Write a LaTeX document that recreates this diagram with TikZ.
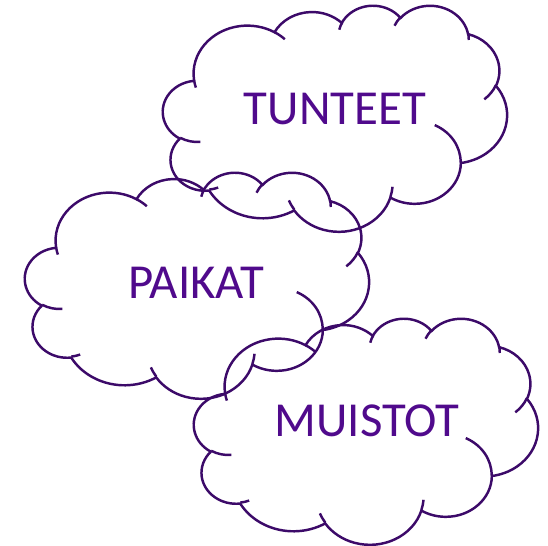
\documentclass[tikz,border=0pt]{standalone}
\usepackage{fontspec}
\setmainfont{Carlito}
\definecolor{edgepurple}{RGB}{60,10,105}
\definecolor{wordpurple}{RGB}{80,10,140}

% one arc of the outline: x radius, y radius, start, sweep (angles as seen)
\newcommand{\cloudarc}[4]{arc[x radius=#1, y radius=#2,
    start angle={atan2(#1*sin(#3),#2*cos(#3))},
    delta angle={mod(atan2(#1*sin(#3+#4),#2*cos(#3+#4))-atan2(#1*sin(#3),#2*cos(#3))+720,360)}]}

% cloud in a 43.2 x 43.2 box, top left corner at #1,#2
\newcommand{\cloudat}[2]{%
  \begin{scope}[shift={(#1,#2)}, xscale=0.15926, yscale=-0.10463]
    % outline
    \draw[cloudedge] (3.9,14.37)
      \cloudarc{6.753}{9.19}{-190.4875}{123.7805}
      \cloudarc{5.333}{7.267}{-144.1024}{89.9452}
      \cloudarc{4.365}{5.945}{-145.8079}{99.7230}
      \cloudarc{4.857}{6.595}{-130.9861}{117.2417}
      \cloudarc{5.333}{7.273}{-78.7089}{109.0269}
      \cloudarc{6.775}{9.22}{-46.2673}{130.2690}
      \cloudarc{5.785}{7.867}{0.6250}{114.0333}
      \cloudarc{6.752}{9.215}{22.4516}{115.1726}
      \cloudarc{7.72}{10.543}{66.2426}{75.7110}
      \cloudarc{4.36}{5.918}{-274.9421}{146.7356}
      \cloudarc{4.345}{5.945}{-246.8285}{152.5189} -- cycle;
    % inner hooks
    \draw[cloudedge]
      (4.693,26.177) \cloudarc{4.345}{5.945}{86.7420}{26.4295}
      (6.928,34.899) \cloudarc{4.36}{5.918}{73.6105}{11.4475}
      (16.478,39.09) \cloudarc{6.752}{9.215}{137.6242}{14.0811}
      (28.827,34.751) \cloudarc{6.752}{9.215}{6.4533}{15.9984}
      (34.129,22.954) \cloudarc{5.785}{7.867}{-70.2924}{70.9174}
      (41.798,15.354) \cloudarc{5.333}{7.273}{30.3180}{27.7515}
      (38.324,5.426) \cloudarc{4.857}{6.595}{-13.7443}{14.8589}
      (29.078,3.952) \cloudarc{4.857}{6.595}{-149.1815}{18.1954}
      (22.141,4.72) \cloudarc{4.365}{5.945}{-163.4943}{17.6864}
      (14.0,5.192) \cloudarc{6.753}{9.19}{-66.7070}{12.3194}
      (4.127,15.789) \cloudarc{6.753}{9.19}{157.6544}{11.8582};
  \end{scope}}

\tikzset{
  cloudedge/.style={draw=edgepurple, line width=1.4pt},
  cloudword/.style={text=wordpurple, font=\fontsize{27.8pt}{32pt}\selectfont}
}

\begin{document}
\begin{tikzpicture}
  \useasboundingbox (0,0) rectangle (10.96,10.9);

  % the three clouds
  \cloudat{3.26}{10.8}
  \cloudat{0.5}{7.46}
  \cloudat{3.88}{4.54}

  % words
  \node[cloudword] (tunteet) at (6.70,8.72) {TUNTEET};
  \node[cloudword] (paikat)  at (3.92,5.24) {PAIKAT};
  \node[cloudword] (muistot) at (7.34,2.48) {MUISTOT};
\end{tikzpicture}
\end{document}
